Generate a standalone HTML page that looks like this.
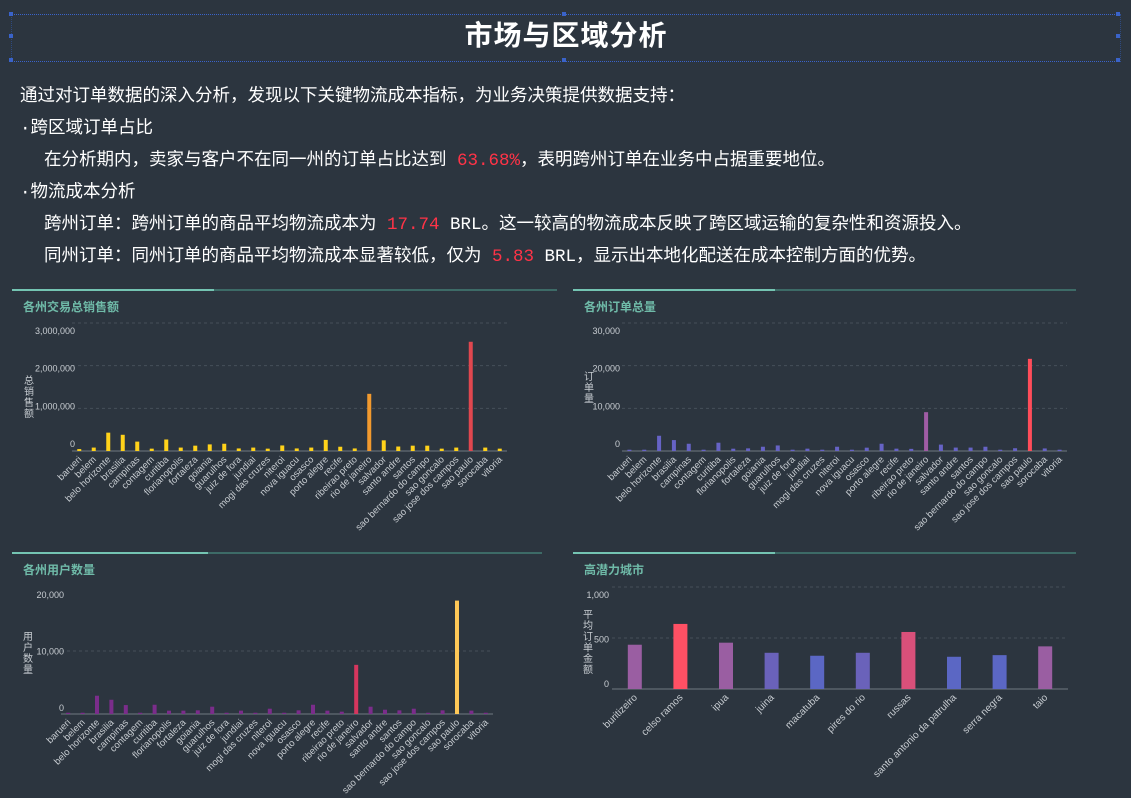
<!DOCTYPE html>
<html><head><meta charset="utf-8">
<style>
html,body{margin:0;padding:0;background:#2c353f;width:1131px;height:798px;overflow:hidden;font-family:"Liberation Sans","Noto Sans CJK SC",sans-serif;color:#fff}
#hdr{position:absolute;left:11px;top:14px;width:1108px;height:46px;border-top:1px dotted #3a63c9;border-bottom:1px dotted #3a63c9;border-left:1px dotted #2e4a80;border-right:1px dotted #2e4a80}
#hdr h1{margin:0;text-align:center;font-size:28px;line-height:42px;font-weight:bold;letter-spacing:1px}
.dot{position:absolute;width:4px;height:4px;background:#3a63c9}
.ln{position:absolute;font-size:17.5px;line-height:20px;white-space:nowrap;font-family:"Liberation Mono","Noto Sans CJK SC",monospace}
.red{color:#ff3347}
svg{position:absolute;left:0;top:0}
</style></head><body>
<div id="hdr"><h1>市场与区域分析</h1>
<div class="dot" style="left:-3px;top:-3px"></div><div class="dot" style="left:550px;top:-3px"></div><div class="dot" style="left:1104px;top:-3px"></div>
<div class="dot" style="left:-3px;top:19px"></div><div class="dot" style="left:1104px;top:19px"></div>
<div class="dot" style="left:-3px;top:43px"></div><div class="dot" style="left:550px;top:43px"></div><div class="dot" style="left:1104px;top:43px"></div></div>
<div class="ln" style="left:20px;top:87px">通过对订单数据的深入分析，发现以下关键物流成本指标，为业务决策提供数据支持：</div>
<div class="ln" style="left:20px;top:119px">·跨区域订单占比</div>
<div class="ln" style="left:44px;top:151px">在分析期内，卖家与客户不在同一州的订单占比达到 <span class="red">63.68%</span>，表明跨州订单在业务中占据重要地位。</div>
<div class="ln" style="left:20px;top:183px">·物流成本分析</div>
<div class="ln" style="left:44px;top:215px">跨州订单：跨州订单的商品平均物流成本为 <span class="red">17.74</span> BRL。这一较高的物流成本反映了跨区域运输的复杂性和资源投入。</div>
<div class="ln" style="left:44px;top:247px">同州订单：同州订单的商品平均物流成本显著较低，仅为 <span class="red">5.83</span> BRL，显示出本地化配送在成本控制方面的优势。</div>
<svg id="s" width="1131" height="798" xmlns="http://www.w3.org/2000/svg"></svg>
<script>
const cities=["barueri","belem","belo horizonte","brasilia","campinas","contagem","curitiba","florianopolis","fortaleza","goiania","guarulhos","juiz de fora","jundiai","mogi das cruzes","niteroi","nova iguacu","osasco","porto alegre","recife","ribeirao preto","rio de janeiro","salvador","santo andre","santos","sao bernardo do campo","sao goncalo","sao jose dos campos","sao paulo","sorocaba","vitoria"];
const salesValues=[45000,80000,430000,380000,220000,55000,270000,80000,125000,155000,170000,60000,80000,55000,130000,60000,80000,260000,100000,60000,1340000,250000,105000,125000,125000,55000,80000,2560000,80000,55000];
const orderValues=[300,300,3570,2560,1700,300,1940,540,620,1000,1300,300,550,300,1000,300,780,1700,550,500,9100,1500,800,800,1000,300,650,21600,600,300];
const userValues=[200,200,2900,2260,1420,200,1470,530,530,580,1160,200,530,200,840,200,580,1470,530,370,7800,1160,680,580,840,200,580,18000,530,200];
const potCities=["buritizeiro","celso ramos","ipua","juina","macatuba","pires do rio","russas","santo antonio da patrulha","serra negra","taio"];
const potValues=[434,638,454,355,326,355,559,316,332,418];
const salesTicks=[0,1000000,2000000,3000000];
const salesTickLabels=["0","1,000,000","2,000,000","3,000,000"];
const orderTicks=[0,10000,20000,30000];
const orderTickLabels=["0","10,000","20,000","30,000"];
const userTicks=[0,10000,20000];
const userTickLabels=["0","10,000","20,000"];
const potTicks=[0,500,1000];
const potTickLabels=["0","500","1,000"];
const S=document.getElementById('s');
const NS="http://www.w3.org/2000/svg";
function mk(t,a,p){const e=document.createElementNS(NS,t);for(const k in a)e.setAttribute(k,a[k]);(p||S).appendChild(e);return e;}
function chart(o){
  const g=mk('g',{});
  
  
  mk('line',{x1:o.px,x2:o.px+o.pw,y1:o.py,y2:o.py,stroke:'#3d6b67','stroke-width':2},g);
  mk('line',{x1:o.px,x2:o.px+o.hw,y1:o.py,y2:o.py,stroke:'#74c4b2','stroke-width':2},g);
  const t=mk('text',{x:o.px+11,y:o.py+21,fill:'#6fbaa8','font-size':12,'font-weight':'bold'},g);t.textContent=o.title;
  
  
  const y=v=>o.y0-v/o.max*(o.y0-o.ytop);
  const ly=v=>o.ly0-v/o.max*(o.ly0-o.lytop);
  o.ticks.forEach((v,i)=>{
    if(v>0&&o.grid.includes(v)) mk('line',{x1:o.x0,x2:o.x1,y1:y(v),y2:y(v),stroke:'#46505a','stroke-dasharray':'3,3'},g);
    const l=mk('text',{x:o.lx,y:ly(v)+4,fill:'#c8cdd2','font-size':9,'text-anchor':'end'},g);l.textContent=o.tickLabels[i];
    
    
  });
  mk('line',{x1:o.x0,x2:o.x1,y1:o.y0,y2:o.y0,stroke:'#5a636c','stroke-width':1.5},g);
  const at=mk('text',{x:o.ax,y:o.ay,fill:'#c8cdd2','font-size':10,'text-anchor':'middle'},g);
  
  
  [...o.axisTitle].forEach((c,i)=>{const s=mk('tspan',{x:o.ax,dy:i?11:0},at);s.textContent=c;});
  const n=o.cats.length,bw=(o.x1-o.x0)/n;
  o.cats.forEach((c,i)=>{
    const cx=o.x0+bw*(i+0.5),v=o.vals[i];
    const r=mk('rect',{x:cx-o.barw/2,y:y(v),width:o.barw,height:o.y0-y(v),fill:o.color(v)},g);
    
    
    const l=mk('text',{x:cx+3,y:o.y0+9,fill:'#c8cdd2','font-size':o.fs,'text-anchor':'end',transform:`rotate(-45 ${cx+3} ${o.y0+9})`},g);l.textContent=c;
    
    
  });
}
chart({name:'sales-chart',title:'各州交易总销售额',px:12,py:290,pw:545,hw:202,x0:72,x1:507,y0:451,ytop:323,max:3000000,ly0:443,lytop:330,lx:75,grid:[1000000,2000000,3000000],ticks:salesTicks,tickLabels:salesTickLabels,cats:cities,vals:salesValues,barw:4,fs:9.5,axisTitle:'总销售额',ax:29,ay:384,
  color:v=>v>2000000?'#e0474f':v>1000000?'#f29a2e':'#ffd21a'});
chart({name:'orders-chart',title:'各州订单总量',px:573,py:290,pw:503,hw:202,x0:622,x1:1067,y0:451,ytop:323,max:30000,ly0:443,lytop:330,lx:620,grid:[10000,20000,30000],ticks:orderTicks,tickLabels:orderTickLabels,cats:cities,vals:orderValues,barw:4,fs:9.5,axisTitle:'订单量',ax:589,ay:380,
  color:v=>v>15000?'#ff4d5a':v>5000?'#a05ca5':'#6663c5'});
chart({name:'users-chart',title:'各州用户数量',px:12,py:553,pw:530,hw:196,x0:61,x1:493,y0:714,ytop:588,max:20000,ly0:707,lytop:594,lx:64,grid:[10000],ticks:userTicks,tickLabels:userTickLabels,cats:cities,vals:userValues,barw:4,fs:9.5,axisTitle:'用户数量',ax:28,ay:640,
  color:v=>v>12000?'#ffc857':v>5000?'#d6365e':'#7b2d8b'});
chart({name:'potential-cities-chart',title:'高潜力城市',px:573,py:553,pw:503,hw:202,x0:612,x1:1068,y0:689,ytop:587,max:1000,ly0:683,lytop:594,lx:609,grid:[500,1000],ticks:potTicks,tickLabels:potTickLabels,cats:potCities,vals:potValues,barw:14,fs:10,axisTitle:'平均订单金额',ax:588,ay:618,
  color:v=>v>600?'#ff5064':v>500?'#d9507a':v>400?'#9a5ea2':v>340?'#6a62ba':'#5b67c4'});
</script>
</body></html>
